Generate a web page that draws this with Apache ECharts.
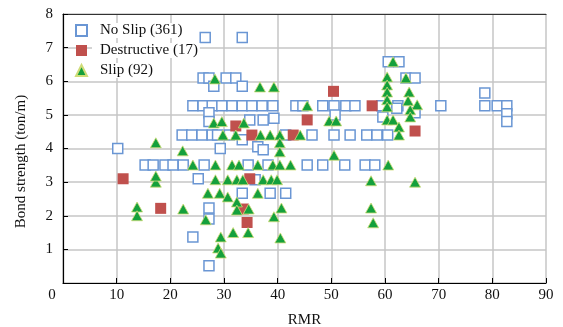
<!DOCTYPE html>
<html>
<head>
<meta charset="utf-8">
<script src="https://cdn.jsdelivr.net/npm/echarts@6/dist/echarts.min.js"></script>
<style>
  html, body { margin: 0; padding: 0; background: #fff; }
  #chart { width: 563px; height: 327px; }
</style>
</head>
<body>
<div id="chart"></div>
<script>
const seriesNames = ['No Slip (361)', 'Destructive (17)', 'Slip (92)']

// [RMR, bond strength (ton/m)]
const noSlip = [
  [26.5, 7.3], [33.4, 7.3],
  [26.1, 6.1], [27.2, 6.1], [30.4, 6.1], [32.2, 6.1], [28.1, 5.85], [33.4, 5.85],
  [60.6, 6.58], [62.6, 6.58], [63.9, 6.1], [65.6, 6.1],
  [24.2, 5.27], [26.1, 5.27], [27.8, 5.27], [29.6, 5.27], [31.5, 5.27], [33.4, 5.27], [35.2, 5.27],
  [37.1, 5.27], [39.1, 5.27], [43.4, 5.27], [44.7, 5.27], [48.4, 5.27], [50.5, 5.27], [52.7, 5.27],
  [54.4, 5.27], [59.4, 5.27], [62.4, 5.27], [70.4, 5.27], [78.6, 5.27], [80.9, 5.27], [82.7, 5.27],
  [78.6, 5.65], [82.7, 5.03], [82.7, 4.8], [65.6, 5.06], [50.7, 5.0], [59.6, 4.94], [27.2, 5.06],
  [27.2, 4.8], [34.8, 4.85], [37.3, 4.85], [39.3, 4.9], [62.2, 5.2],
  [22.2, 4.4], [24.0, 4.4], [25.9, 4.4], [27.8, 4.4], [28.8, 4.4], [31.0, 4.4], [41.5, 4.4],
  [46.4, 4.4], [50.5, 4.4], [53.5, 4.4], [56.6, 4.4], [58.5, 4.4], [60.5, 4.4],
  [33.4, 4.26], [29.3, 4.0], [36.3, 4.05], [37.3, 3.96], [10.2, 4.0],
  [15.3, 3.51], [16.8, 3.51], [19.0, 3.51], [20.5, 3.51], [22.4, 3.51], [26.3, 3.51], [34.5, 3.51],
  [38.2, 3.51], [45.5, 3.51], [48.4, 3.51], [52.5, 3.51], [56.3, 3.51], [58.1, 3.51],
  [25.2, 3.1], [35.8, 3.07],
  [33.4, 2.67], [38.6, 2.67], [41.5, 2.67],
  [27.2, 2.23], [27.2, 1.9], [24.2, 1.37], [27.2, 0.51]
]

const destructive = [
  [11.2, 3.1], [18.2, 2.22], [32.2, 4.67], [35.2, 4.4], [34.8, 3.1], [33.6, 2.2], [34.3, 1.8],
  [50.4, 5.7], [45.5, 4.85], [57.6, 5.27], [65.6, 4.52], [42.9, 4.4]
]

const slip = [
  [13.8, 2.26], [13.8, 2.0], [17.3, 4.17], [17.3, 3.0], [17.3, 3.18], [22.3, 3.93], [22.4, 2.2], [24.2, 3.51],
  [26.6, 1.88], [27.0, 2.67], [28.3, 6.07], [28.1, 4.76], [29.6, 4.8], [29.8, 4.4], [28.4, 3.51], [28.4, 3.07],
  [29.2, 2.67], [28.9, 1.04], [29.4, 0.89], [29.4, 1.37],
  [30.7, 3.07], [30.7, 2.56], [31.5, 3.51], [32.2, 4.4], [32.4, 3.07], [32.4, 2.41], [32.4, 2.17], [31.7, 1.5],
  [32.8, 3.51], [33.5, 3.07], [33.7, 4.76],
  [34.6, 2.2], [34.5, 1.5], [36.3, 3.51], [36.3, 2.67], [36.7, 5.83], [36.8, 4.4], [37.3, 3.07], [38.6, 4.4],
  [38.8, 3.07], [39.3, 5.83], [39.1, 3.51], [39.3, 1.97], [39.9, 3.07],
  [40.4, 4.4], [40.4, 4.17], [40.4, 3.9], [40.4, 3.51], [40.7, 2.23], [40.5, 1.34], [42.4, 3.51], [44.2, 4.4],
  [45.5, 5.27], [49.6, 4.82], [50.9, 4.82], [50.5, 3.8],
  [57.4, 3.04], [57.4, 2.23], [57.8, 1.79], [60.6, 3.51], [61.5, 6.58], [60.4, 6.13], [60.4, 5.89], [60.4, 5.68],
  [60.4, 5.45], [60.4, 5.24], [60.4, 4.85], [61.5, 4.85], [62.6, 4.64], [62.6, 4.4], [63.9, 6.1], [64.5, 5.68],
  [64.3, 5.42], [66.0, 5.3], [64.7, 5.15], [64.7, 4.94], [65.6, 3.0]
]

const FONT = '"Liberation Serif", "Times New Roman", serif'
const GRID_COLOR = '#c6c6c6'

const chart = echarts.init(document.getElementById('chart'), null, { renderer: 'canvas' })

chart.setOption({
  animation: false,
  textStyle: { fontFamily: FONT },
  grid: { left: 63, right: 17, top: 14, bottom: 44, outerBoundsMode: 'none' },
  legend: {
    orient: 'vertical',
    left: 70,
    top: 18,
    itemWidth: 11,
    itemHeight: 11,
    itemGap: 5,
    data: seriesNames,
    textStyle: {
      fontFamily: FONT,
      fontSize: 15,
      color: '#111',
      backgroundColor: '#fff',
      padding: [0, 2, 0, 8]
    }
  },
  xAxis: [{
    type: 'value',
    min: 0,
    max: 90,
    interval: 10,
    name: 'RMR',
    nameLocation: 'middle',
    nameGap: 30,
    nameTextStyle: { fontFamily: FONT, fontSize: 15, color: '#111' },
    axisLine: { lineStyle: { color: '#000', width: 1.2 } },
    axisTick: { inside: true, length: 5, lineStyle: { color: '#000' } },
    axisLabel: {
      fontFamily: FONT,
      fontSize: 15,
      color: '#111',
      margin: 5,
      formatter: (v) => v === 0 ? '{o|0}' : String(v),
      rich: { o: { fontFamily: FONT, fontSize: 15, color: '#111', padding: [0, 22, 0, 0] } }
    },
    splitLine: { show: true, lineStyle: { color: GRID_COLOR, width: 1.5 } }
  }, {
    type: 'value',
    position: 'top',
    min: 0,
    max: 90,
    interval: 10,
    axisLine: { show: true, lineStyle: { color: '#333', width: 1.2 } },
    axisTick: { show: false },
    axisLabel: { show: false },
    splitLine: { show: false }
  }],
  yAxis: {
    type: 'value',
    min: 0,
    max: 8,
    interval: 1,
    name: 'Bond strength (ton/m)',
    nameLocation: 'middle',
    nameGap: 34,
    nameTextStyle: { fontFamily: FONT, fontSize: 15, color: '#111', padding: [0, 26, 0, 0] },
    axisLine: { show: true, lineStyle: { color: '#000', width: 1.2 } },
    axisTick: { show: true, inside: true, length: 5, lineStyle: { color: '#000' } },
    axisLabel: { fontFamily: FONT, fontSize: 15, color: '#111', margin: 10, showMinLabel: false },
    splitLine: { show: true, lineStyle: { color: GRID_COLOR, width: 1.5 } }
  },
  series: [
    {
      name: seriesNames[0],
      type: 'scatter',
      data: noSlip,
      symbol: 'rect',
      symbolSize: 10,
      itemStyle: { color: '#fff', borderColor: '#6a96d4', borderWidth: 1.5, opacity: 1 }
    },
    {
      name: seriesNames[1],
      type: 'scatter',
      data: destructive,
      symbol: 'rect',
      symbolSize: 11,
      itemStyle: { color: '#c0504d', opacity: 1 }
    },
    {
      name: seriesNames[2],
      type: 'scatter',
      data: slip,
      symbol: 'triangle',
      symbolSize: [11, 10],
      itemStyle: { color: '#14a03c', borderColor: '#cfdc78', borderWidth: 0.8, opacity: 1 }
    }
  ]
})
</script>
</body>
</html>
